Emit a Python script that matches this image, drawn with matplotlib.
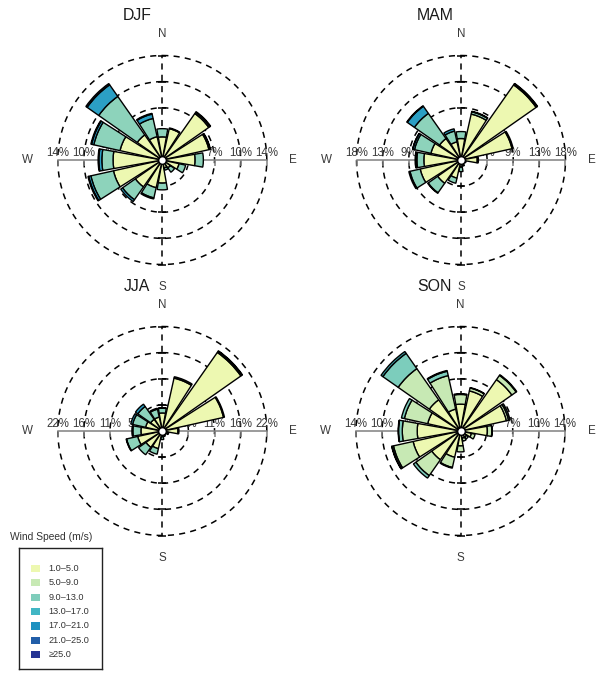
import numpy as np
import matplotlib
matplotlib.use("Agg")
import matplotlib.pyplot as plt
from matplotlib.patches import Rectangle

plt.rcParams['font.family'] = ['Liberation Sans', 'DejaVu Sans']

# ---------------- data ----------------
directions = ['N', 'NNE', 'NE', 'ENE', 'E', 'ESE', 'SE', 'SSE',
              'S', 'SSW', 'SW', 'WSW', 'W', 'WNW', 'NW', 'NNW']
speed_bins = ['1.0\u20135.0', '5.0\u20139.0', '9.0\u201313.0', '13.0\u201317.0',
              '17.0\u201321.0', '21.0\u201325.0', '\u226525.0']
legend_colors = ['#edf8b1', '#c7e9b4', '#7fcdbb', '#41b6c4', '#1d91c0', '#225ea8', '#253494']
seasons = ['DJF', 'MAM', 'JJA', 'SON']

# frequency (%) per direction, stacked speed classes
djf_1 = [3.1, 4.3, 7.6, 6.4, 4.4, 2.3, 1.3, 1.1, 3.1, 3.8, 4.4, 6.7, 6.6, 5.8, 4.1, 3.2]
djf_2 = [1.1, 0.1, 0.2, 0.15, 1.1, 0.9, 0.7, 0.3, 0.9, 1.4, 2.1, 3.1, 1.5, 3.6, 6.3, 2.5]
djf_3 = [0, 0, 0.1, 0.05, 0, 0, 0, 0, 0, 0.15, 0.3, 0.3, 0.4, 0.3, 1.9, 0.6]
djf_4 = [0, 0, 0, 0, 0, 0, 0, 0, 0, 0, 0, 0.1, 0.1, 0.1, 0.2, 0.1]

mam_1 = [3.7, 8.1, 15.8, 9.0, 2.8, 0.8, 0.6, 0.8, 1.2, 3.2, 4.9, 7.2, 6.4, 5.3, 4.5, 3.2]
mam_2 = [1.2, 0.4, 0.2, 0.2, 0.2, 0.1, 0.1, 0.3, 0.8, 0.9, 2.0, 1.8, 1.2, 2.9, 5.3, 1.9]
mam_3 = [0, 0.1, 0.1, 0, 0, 0, 0, 0, 0, 0, 0.1, 0.2, 0.2, 0.3, 1.5, 0.4]
mam_4 = [0, 0, 0, 0, 0, 0, 0, 0, 0, 0, 0, 0, 0.1, 0.05, 0.1, 0]

jja_1 = [3.8, 11.4, 20.2, 13.2, 3.3, 1.2, 0.8, 1.0, 1.2, 3.8, 4.2, 5.3, 4.5, 3.6, 3.0, 3.0]
jja_2 = [1.0, 0.3, 0.3, 0.2, 0.2, 0.2, 0.1, 0.2, 0.6, 1.2, 1.9, 2.4, 1.7, 2.8, 3.3, 1.7]
jja_3 = [0.1, 0, 0.1, 0, 0, 0, 0, 0, 0, 0, 0, 0.1, 0.2, 0.4, 0.6, 0.2]
jja_4 = [0, 0, 0, 0, 0, 0, 0, 0, 0, 0, 0, 0, 0, 0, 0, 0]

son_1 = [3.6, 5.5, 8.4, 6.3, 3.6, 1.5, 1.0, 1.0, 2.0, 3.6, 4.7, 6.5, 5.8, 4.5, 5.1, 3.0]
son_2 = [1.3, 0.4, 0.7, 0.3, 0.6, 0.5, 0.3, 0.4, 0.8, 1.4, 2.6, 2.7, 2.0, 3.2, 5.1, 4.6]
son_3 = [0.1, 0.05, 0.1, 0.2, 0.05, 0, 0, 0, 0, 0.1, 0.4, 0.2, 0.5, 0.4, 2.5, 0.6]
son_4 = [0, 0, 0, 0, 0, 0, 0, 0, 0, 0, 0, 0.05, 0.05, 0, 0.3, 0.1]

season_data = {
    'DJF': [djf_1, djf_2, djf_3, djf_4],
    'MAM': [mam_1, mam_2, mam_3, mam_4],
    'JJA': [jja_1, jja_2, jja_3, jja_4],
    'SON': [son_1, son_2, son_3, son_4],
}
season_colors = {
    'DJF': ['#edf8b1', '#8dd3bb', '#2b9fc4', '#1f4e8c'],
    'MAM': ['#edf8b1', '#8dd3bb', '#2b9fc4', '#1f4e8c'],
    'JJA': ['#edf8b1', '#8dd3bb', '#2b9fc4', '#1f4e8c'],
    'SON': ['#edf8b1', '#c7e9b4', '#7ccdbc', '#3aa2a8'],
}
# grid step (%) and the rounded labels shown on the E-W axis
grid_step = {'DJF': 3.5, 'MAM': 4.5, 'JJA': 5.5, 'SON': 3.5}
grid_labels = {
    'DJF': ['3%', '7%', '10%', '14%'],
    'MAM': ['4%', '9%', '13%', '18%'],
    'JJA': ['5%', '11%', '16%', '22%'],
    'SON': ['3%', '7%', '10%', '14%'],
}

# ---------------- layout ----------------
W, H = 600, 675
fig = plt.figure(figsize=(6, 6.75), dpi=100)
R_PX = 104.5
centers = {'DJF': (162.3, 160), 'MAM': (461.0, 160), 'JJA': (162.3, 431), 'SON': (460.5, 431)}
title_pos = {'DJF': (137, 15), 'MAM': (435, 15), 'JJA': (137, 287), 'SON': (434, 287)}

dash = (0, (4.0, 3.4))
txt_col = '#3a3a3a'

for s in seasons:
    cx, cy = centers[s]
    ax = fig.add_axes([(cx - R_PX) / W, (H - cy - R_PX) / H, 2 * R_PX / W, 2 * R_PX / H],
                      projection='polar')
    ax.set_theta_zero_location('N')
    ax.set_theta_direction(-1)
    g = grid_step[s]
    R = 4 * g
    ax.set_ylim(0, R)
    ax.grid(False)
    ax.set_xticks([])
    ax.set_yticks([])
    ax.spines['polar'].set_visible(False)
    ax.patch.set_alpha(0)

    # grid circles
    tc = np.linspace(0, 2 * np.pi, 721)
    for k in range(1, 5):
        ax.plot(tc, np.full_like(tc, k * g), color='black', lw=1.1, ls=dash,
                clip_on=False, zorder=1)
    # N-S dashed axis with cross ticks
    for th in (0, np.pi):
        ax.plot([th, th], [0, R], color='black', lw=1.1, ls=dash, clip_on=False, zorder=1)
        for k in range(1, 5):
            ax.plot([th], [k * g], marker='_', ms=6, mew=1.1, color='black',
                    clip_on=False, zorder=1)
    # E-W solid grey axis with ticks and labels
    for th in (np.pi / 2, 3 * np.pi / 2):
        ax.plot([th, th], [0, R], color='#808080', lw=1.1, clip_on=False, zorder=1)
        for k in range(1, 5):
            ax.plot([th], [k * g], marker=3, ms=4, mew=1.1, color='#808080',
                    clip_on=False, zorder=1)
            ax.annotate(grid_labels[s][k - 1], xy=(th, k * g), xytext=(0, 3),
                        textcoords='offset points', ha='center', va='baseline',
                        fontsize=8.3, color=txt_col, zorder=1.5)

    # stacked wedges
    theta = np.deg2rad(np.arange(len(directions)) * 22.5)
    width = np.deg2rad(20.0)
    bottom = np.zeros(len(directions))
    for vals, col in zip(season_data[s], season_colors[s]):
        v = np.array(vals, dtype=float)
        m = v > 0
        ax.bar(theta[m], v[m], width=width, bottom=bottom[m], color=col,
               edgecolor='black', linewidth=1.0, zorder=2)
        bottom = bottom + v
    # centre hole
    ax.plot([0], [0], marker='o', ms=5.5, mfc='white', mec='black', mew=1.0, zorder=4,
            clip_on=False)

    # compass labels
    ax.text(0, R * 126 / R_PX, 'N', ha='center', va='center', fontsize=8.4, color=txt_col)
    ax.text(np.pi, R * 127 / R_PX, 'S', ha='center', va='center', fontsize=8.4, color=txt_col)
    ax.text(np.pi / 2, R * 131 / R_PX, 'E', ha='center', va='center', fontsize=8.4, color=txt_col)
    ax.text(3 * np.pi / 2, R * 135 / R_PX, 'W', ha='center', va='center', fontsize=8.4, color=txt_col)

    tx, ty = title_pos[s]
    fig.text(tx / W, 1 - ty / H, s, ha='center', va='center', fontsize=11.4, color='#1a1a1a')

# ---------------- legend ----------------
lx0, ly0, lx1, ly1 = 19, 548.3, 101.7, 669.3
lax = fig.add_axes([lx0 / W, (H - ly1) / H, (lx1 - lx0) / W, (ly1 - ly0) / H])
lax.set_xlim(0, lx1 - lx0)
lax.set_ylim(ly1 - ly0, 0)
lax.set_xticks([])
lax.set_yticks([])
for sp in lax.spines.values():
    sp.set_linewidth(1.0)
    sp.set_color('#222222')
for i, (lab, col) in enumerate(zip(speed_bins, legend_colors)):
    yc = 20.0 + i * 14.4
    lax.add_patch(Rectangle((11.7, yc - 3.6), 9.3, 7.2, facecolor=col, edgecolor='none'))
    lax.text(29.3, yc, lab, ha='left', va='center', fontsize=6.6, color='#333333')
fig.text(10 / W, 1 - 537 / H, 'Wind Speed (m/s)', ha='left', va='center', fontsize=7.4,
         color='#333333')

fig.savefig('out.png', dpi=100)
